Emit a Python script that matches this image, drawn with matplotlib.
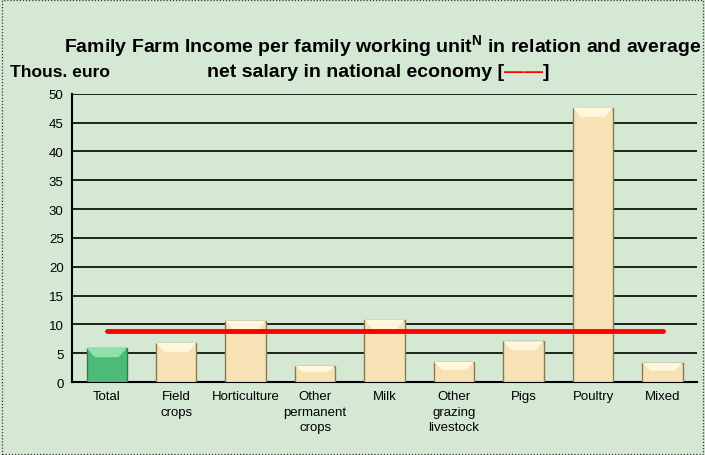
import matplotlib.pyplot as plt
from matplotlib.patches import Rectangle, Polygon

plt.rcParams['font.family'] = ['Liberation Sans', 'DejaVu Sans']

# data
categories = ['Total', 'Field\ncrops', 'Horticulture', 'Other\npermanent\ncrops', 'Milk',
              'Other\ngrazing\nlivestock', 'Pigs', 'Poultry', 'Mixed']
income = [5.9, 6.8, 10.6, 2.8, 10.8, 3.5, 7.1, 47.6, 3.3]
net_salary = 8.85
yticks = list(range(0, 55, 5))

bg = '#d5e8d4'
fig = plt.figure(figsize=(7.05, 4.56), dpi=100, facecolor=bg)
fig.patches.append(Rectangle((0.003, 0.003), 0.994, 0.994, transform=fig.transFigure,
                             fill=False, linestyle=(0, (1, 1.5)), linewidth=0.9, edgecolor='#333333'))

ax = fig.add_axes([0.102, 0.160, 0.887, 0.632])
ax.set_facecolor(bg)

x = list(range(len(categories)))
colors = ['#4cbb78'] + ['#f6e2b4'] * (len(categories) - 1)
tops = ['#8fe0ad'] + ['#fff6dc'] * (len(categories) - 1)
edges = ['#2e7d4e'] + ['#8a7a52'] * (len(categories) - 1)
bw = 0.58
bars = ax.bar(x, income, width=bw, color=colors, edgecolor=edges, linewidth=1.0, zorder=3)

ax.set_xlim(-0.5, len(categories) - 0.5)
ax.set_ylim(0, 50)
# light bevel on top of each bar
for b, tc in zip(bars, tops):
    h = b.get_height()
    d = min(1.6, h * 0.4)
    x0 = b.get_x()
    ax.add_patch(Polygon([(x0, h), (x0 + bw, h), (x0 + bw - 0.12, h - d), (x0 + 0.12, h - d)],
                         closed=True, facecolor=tc, edgecolor='none', zorder=4))

ax.plot([x[0], x[-1]], [net_salary, net_salary], color='#ff0000', linewidth=3.5,
        solid_capstyle='round', zorder=5)

ax.set_yticks(yticks)
ax.yaxis.grid(True, color='black', linewidth=1.2, zorder=1)
ax.set_axisbelow(True)
for s in ['top', 'right']:
    ax.spines[s].set_visible(False)
ax.spines['left'].set_linewidth(1.5)
ax.spines['bottom'].set_linewidth(1.5)
ax.tick_params(axis='both', length=0, labelsize=9.5, pad=6)
ax.set_xticks(x)
ax.set_xticklabels(categories, linespacing=1.35, va='top')

fig.text(0.542, 0.898, 'Family Farm Income per family working unit$^{\\mathregular{N}}$ in relation and average',
         ha='center', va='center', fontsize=14, fontweight='bold')
t1 = fig.text(0.715, 0.842, 'net salary in national economy [', ha='right', va='center',
              fontsize=14, fontweight='bold')
t2 = ax.annotate('——', xy=(1, 0), xycoords=t1, va='bottom', ha='left',
                 fontsize=14, fontweight='heavy', color='#ff0000', annotation_clip=False)
ax.annotate(']', xy=(1, 0), xycoords=t2, va='bottom', ha='left',
            fontsize=14, fontweight='bold', annotation_clip=False)
fig.text(0.014, 0.840, 'Thous. euro', ha='left', va='center', fontsize=12.5, fontweight='bold')

fig.savefig('out.png', dpi=100, facecolor=bg)
